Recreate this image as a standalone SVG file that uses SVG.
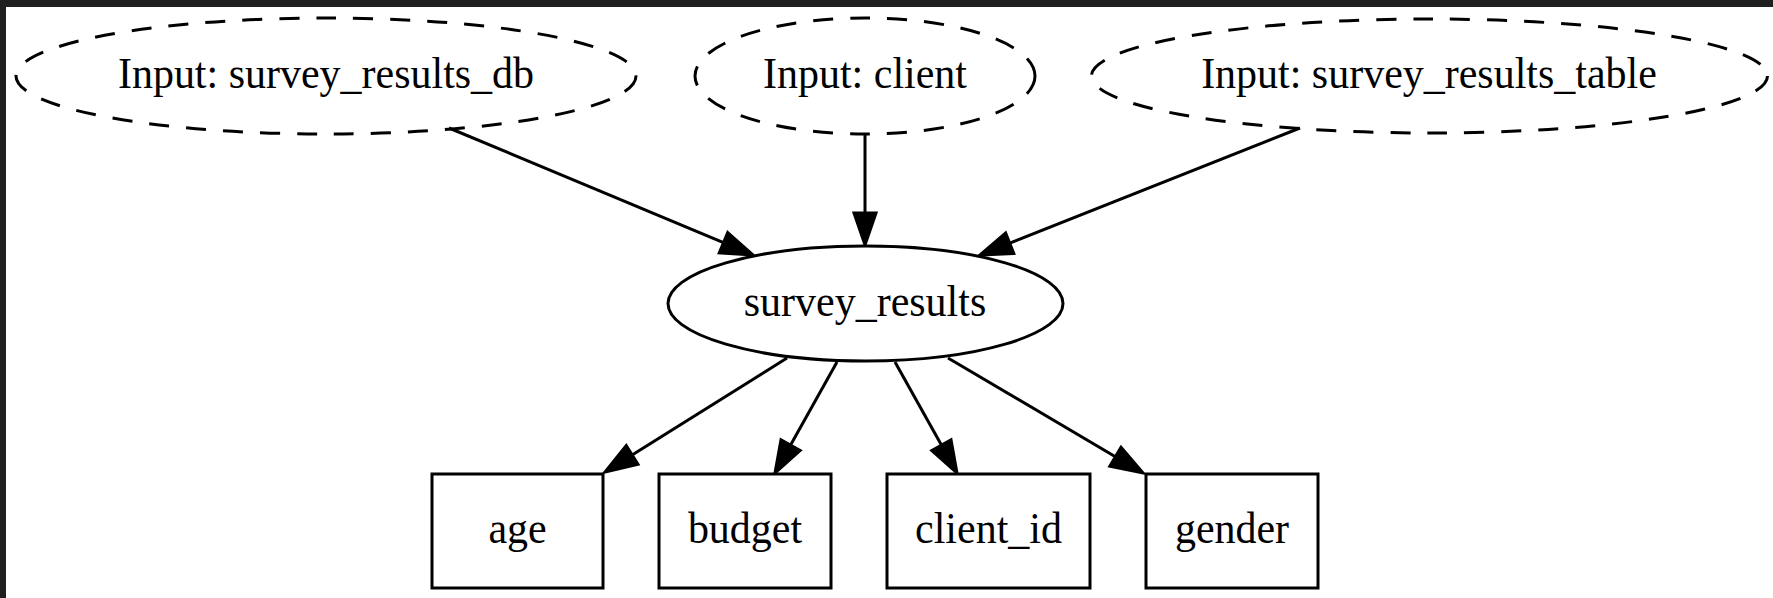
<svg xmlns="http://www.w3.org/2000/svg" width="1773" height="598" viewBox="0 0 1773 598">
  <style>
    .node-shape { fill: #ffffff; stroke: #000000; stroke-width: 3; }
    .input-shape { fill: none; stroke: #000000; stroke-width: 3; stroke-dasharray: 20 17; }
    .label { font-family: "Liberation Serif", "Times New Roman", serif; font-size: 45px; fill: #000000; text-anchor: middle; }
    .edge { fill: none; stroke: #000000; stroke-width: 3; marker-end: url(#arrow); }
  </style>
  <defs>
    <marker id="arrow" viewBox="0 -13 36 26" markerWidth="36" markerHeight="26" refX="0" refY="0" orient="auto" markerUnits="userSpaceOnUse" overflow="visible">
      <path d="M0,-11 L32,0 L0,11 Z" fill="#000000" stroke="#000000" stroke-width="3" stroke-linejoin="miter"/>
    </marker>
  </defs>

  <!-- dark frame and white canvas -->
  <rect x="0" y="0" width="1773" height="598" fill="#1f1f1f"/>
  <rect x="6" y="7" width="1767" height="591" fill="#ffffff"/>

  <!-- connectors (lines end at arrowhead base; marker draws the head) -->
  <g id="edges">
    <path class="edge" d="M449,128 L723.5,242.7"/>
    <path class="edge" d="M865,135 L865,213"/>
    <path class="edge" d="M1300,128 L1009.7,243.2"/>
    <path class="edge" d="M787,358 L632.1,455"/>
    <path class="edge" d="M837,362 L790.6,445.1"/>
    <path class="edge" d="M895,362 L941.4,445.1"/>
    <path class="edge" d="M948,358 L1115.4,456.7"/>
  </g>

  <!-- labels are set slightly condensed: scale(0.933,1) -->
  <g id="input-survey-results-db">
    <ellipse class="input-shape" cx="326" cy="76" rx="310" ry="58"/>
    <text class="label" transform="translate(326,88) scale(0.933,1)">Input: survey_results_db</text>
  </g>
  <g id="input-client">
    <ellipse class="input-shape" cx="865" cy="76" rx="170" ry="58"/>
    <text class="label" transform="translate(865,88) scale(0.933,1)">Input: client</text>
  </g>
  <g id="input-survey-results-table">
    <ellipse class="input-shape" cx="1429.5" cy="76" rx="338" ry="57"/>
    <text class="label" transform="translate(1429,88) scale(0.933,1)">Input: survey_results_table</text>
  </g>

  <g id="survey-results">
    <ellipse class="node-shape" cx="865.5" cy="303.5" rx="197.5" ry="57.5"/>
    <text class="label" transform="translate(865,316) scale(0.933,1)">survey_results</text>
  </g>

  <g id="age">
    <rect class="node-shape" x="432" y="474" width="171" height="114"/>
    <text class="label" transform="translate(517.5,543) scale(0.933,1)">age</text>
  </g>
  <g id="budget">
    <rect class="node-shape" x="659" y="474" width="172" height="114"/>
    <text class="label" transform="translate(745,543) scale(0.933,1)">budget</text>
  </g>
  <g id="client-id">
    <rect class="node-shape" x="887" y="474" width="203" height="114"/>
    <text class="label" transform="translate(988.5,543) scale(0.933,1)">client_id</text>
  </g>
  <g id="gender">
    <rect class="node-shape" x="1146" y="474" width="172" height="114"/>
    <text class="label" transform="translate(1232,543) scale(0.933,1)">gender</text>
  </g>
</svg>
